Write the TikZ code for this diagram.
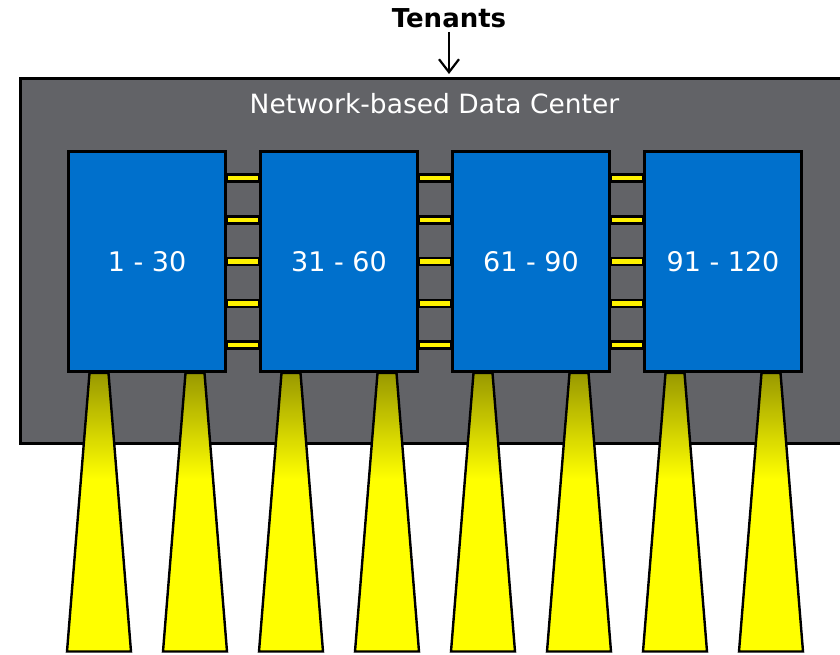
\documentclass[tikz,border=0pt]{standalone}
\usepackage{fontspec}
\setmainfont{DejaVu Sans}
\usetikzlibrary{positioning, arrows.meta, calc, backgrounds}
\definecolor{dcgray}{RGB}{98,99,103}
\definecolor{rackblue}{RGB}{0,112,204}
\pgfdeclareverticalshading{conefade}{100bp}{color(0bp)=(yellow); color(25bp)=(yellow); color(56bp)=(yellow); color(75bp)=(yellow!60!black); color(100bp)=(yellow!60!black)}
\tikzset{
    node distance=32pt,
    every node/.style={inner sep=0pt},
    dc/.style={draw, line width=3pt, fill=dcgray, minimum width=828pt, minimum height=365pt},
    rack/.style={draw, line width=3pt, fill=rackblue, text=white,
        minimum width=157pt, minimum height=220pt, font=\fontsize{27}{32}\selectfont},
    link/.style={draw, line width=2.4pt, fill=yellow},
    cone/.style={draw, line width=2.4pt, shade, shading=conefade},
    tenarrow/.style={line width=2.2pt, -{Straight Barb[length=13pt,width=20pt]}, shorten <=4pt, shorten >=3pt},
    title/.style={font=\bfseries\fontsize{26}{30}\selectfont}
}

\begin{document}
\begin{tikzpicture}[x=1pt,y=-1pt]
	\useasboundingbox (0,0) rectangle (840,655);
	\node[title] at (449,18) (tenants) {Tenants};
	% racks
	\node[rack] at (147,261.5) (r1) {1 - 30};
	\node[rack, right=of r1] (r2) {31 - 60};
	\node[rack, right=of r2] (r3) {61 - 90};
	\node[rack, right=of r3] (r4) {91 - 120};
	\begin{scope}[on background layer]
		\node[dc] at (434.5,261) (dc) {};
		% uplinks below each rack
		\foreach \r in {r1,r2,r3,r4}
			\foreach \dx in {32,128}
				\draw[cone] ($(\r.south west)+(\dx-9.5,0)$) -- ($(\r.south west)+(\dx+9.5,0)$)
					-- ($(\r.south west)+(\dx+32,278.5)$) -- ($(\r.south west)+(\dx-32,278.5)$) -- cycle;
	\end{scope}
	\node[text=white, font=\fontsize{26.5}{30}\selectfont] at (434.5,104) (dctitle) {Network-based Data Center};
	\draw[tenarrow] (tenants) -- (tenants |- dc.north);
	% links between racks
	\foreach \a/\b in {r1/r2,r2/r3,r3/r4}
		\foreach \dy in {-83.3,-41.7,0,41.7,83.3}
			\draw[link] ([yshift=\dy pt+3.5pt]\a.east) rectangle ([yshift=\dy pt-3.5pt]\b.west);
\end{tikzpicture}
\end{document}
